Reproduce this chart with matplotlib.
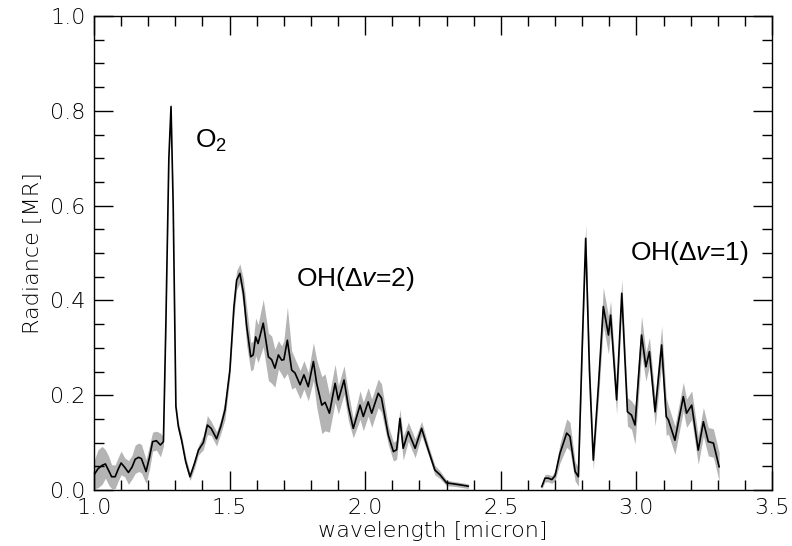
import numpy as np
import matplotlib
matplotlib.use("Agg")
import matplotlib.pyplot as plt

plt.rcParams['mathtext.fontset'] = 'custom'
plt.rcParams['mathtext.rm'] = 'Liberation Sans'
plt.rcParams['mathtext.it'] = 'Liberation Sans:italic'

# O2 + OH(dv=2) part of the spectrum
wl_a = [1.000, 1.015, 1.030, 1.042, 1.055, 1.065, 1.078, 1.090, 1.100, 1.113,
        1.127, 1.140, 1.152, 1.165, 1.175, 1.192, 1.205, 1.216, 1.230, 1.245,
        1.256, 1.265, 1.276, 1.284, 1.292, 1.302, 1.311, 1.323, 1.338, 1.354,
        1.370, 1.385, 1.403, 1.418, 1.432, 1.452, 1.468, 1.483, 1.501, 1.516,
        1.526, 1.538, 1.551, 1.563, 1.578, 1.587, 1.596, 1.605, 1.624, 1.643,
        1.655, 1.667, 1.680, 1.692, 1.700, 1.713, 1.729, 1.741, 1.760, 1.774,
        1.790, 1.809, 1.821, 1.840, 1.852, 1.868, 1.889, 1.901, 1.922, 1.938,
        1.956, 1.981, 1.993, 2.011, 2.024, 2.048, 2.060, 2.085, 2.104, 2.116,
        2.128, 2.140, 2.159, 2.184, 2.208, 2.233, 2.257, 2.276, 2.300, 2.325,
        2.349, 2.380]
rad_a = [0.032, 0.045, 0.052, 0.055, 0.040, 0.028, 0.028, 0.045, 0.057, 0.048,
         0.037, 0.048, 0.065, 0.069, 0.066, 0.039, 0.070, 0.102, 0.104, 0.095,
         0.102, 0.350, 0.700, 0.809, 0.600, 0.176, 0.134, 0.105, 0.060, 0.028,
         0.055, 0.084, 0.100, 0.137, 0.130, 0.108, 0.135, 0.169, 0.253, 0.387,
         0.443, 0.457, 0.415, 0.345, 0.281, 0.285, 0.323, 0.309, 0.352, 0.281,
         0.275, 0.257, 0.285, 0.274, 0.275, 0.316, 0.253, 0.247, 0.222, 0.243,
         0.218, 0.271, 0.225, 0.179, 0.185, 0.162, 0.225, 0.190, 0.232, 0.176,
         0.130, 0.179, 0.155, 0.186, 0.162, 0.204, 0.194, 0.116, 0.081, 0.085,
         0.151, 0.088, 0.123, 0.088, 0.130, 0.084, 0.042, 0.032, 0.015, 0.013,
         0.011, 0.008]
err_a = [0.030, 0.040, 0.040, 0.030, 0.030, 0.025, 0.025, 0.025, 0.025, 0.020,
         0.025, 0.025, 0.030, 0.030, 0.030, 0.025, 0.025, 0.020, 0.020, 0.025,
         0.010, 0.010, 0.010, 0.010, 0.010, 0.010, 0.010, 0.010, 0.010, 0.008,
         0.010, 0.010, 0.015, 0.020, 0.015, 0.015, 0.015, 0.020, 0.015, 0.020,
         0.020, 0.020, 0.030, 0.040, 0.030, 0.030, 0.040, 0.040, 0.050, 0.050,
         0.050, 0.040, 0.030, 0.030, 0.040, 0.070, 0.040, 0.030, 0.030, 0.030,
         0.030, 0.040, 0.050, 0.060, 0.060, 0.040, 0.040, 0.030, 0.030, 0.030,
         0.020, 0.030, 0.030, 0.030, 0.030, 0.030, 0.030, 0.020, 0.020, 0.020,
         0.020, 0.025, 0.020, 0.020, 0.015, 0.010, 0.010, 0.008, 0.006, 0.005,
         0.005, 0.005]

# OH(dv=1) part
wl_b = [2.651, 2.663, 2.675, 2.688, 2.700, 2.718, 2.743, 2.755, 2.774, 2.786,
        2.800, 2.813, 2.827, 2.841, 2.860, 2.878, 2.897, 2.905, 2.927, 2.946,
        2.967, 2.982, 2.995, 3.019, 3.035, 3.048, 3.069, 3.093, 3.110, 3.118,
        3.142, 3.173, 3.185, 3.204, 3.228, 3.247, 3.265, 3.284, 3.305]
rad_b = [0.007, 0.025, 0.025, 0.022, 0.030, 0.077, 0.120, 0.113, 0.039, 0.028,
         0.300, 0.531, 0.250, 0.063, 0.220, 0.387, 0.327, 0.369, 0.190, 0.415,
         0.165, 0.158, 0.137, 0.327, 0.260, 0.292, 0.165, 0.306, 0.155, 0.148,
         0.105, 0.197, 0.162, 0.179, 0.084, 0.144, 0.102, 0.099, 0.049]
err_b = [0.005, 0.008, 0.008, 0.008, 0.010, 0.020, 0.030, 0.030, 0.020, 0.020,
         0.030, 0.030, 0.030, 0.020, 0.030, 0.040, 0.040, 0.030, 0.030, 0.030,
         0.030, 0.030, 0.040, 0.040, 0.030, 0.030, 0.030, 0.040, 0.040, 0.030,
         0.030, 0.030, 0.030, 0.030, 0.030, 0.030, 0.030, 0.030, 0.030]

fig = plt.figure(figsize=(7.92, 5.46), dpi=100)
ax = fig.add_axes([94 / 792, 1 - 490 / 546, 678 / 792, 474 / 546])

for wl, rad, err in [(wl_a, rad_a, err_a), (wl_b, rad_b, err_b)]:
    wl = np.array(wl)
    rad = np.array(rad)
    err = np.array(err)
    ax.fill_between(wl, np.clip(rad - err, 0, None), rad + err,
                    color='#b4b4b4', linewidth=0)
    ax.plot(wl, rad, color='black', linewidth=1.2)

ax.set_xlim(1.0, 3.5)
ax.set_ylim(0.0, 1.0)
ax.set_xticks(np.arange(1.0, 3.51, 0.5))
ax.set_xticks(np.arange(1.0, 3.51, 0.1), minor=True)
ax.set_yticks(np.arange(0.0, 1.01, 0.2))
ax.set_yticks(np.arange(0.0, 1.01, 0.05), minor=True)
ax.set_xticklabels([f"{v:.1f}" for v in np.arange(1.0, 3.51, 0.5)])
ax.set_yticklabels([f"{v:.1f}" for v in np.arange(0.0, 1.01, 0.2)])
ax.tick_params(which='both', direction='in', top=True, right=True,
               width=1.0, labelsize=16, pad=6)
ax.tick_params(which='major', length=14)
ax.tick_params(which='minor', length=7)
for lab in ax.get_xticklabels() + ax.get_yticklabels():
    lab.set_fontweight('light')
for sp in ax.spines.values():
    sp.set_linewidth(1.0)

ax.set_xlabel('wavelength [micron]', fontsize=16, fontweight='light', labelpad=2)
ax.set_ylabel('Radiance [MR]', fontsize=16, fontweight='light', labelpad=6)

ax.text(1.372, 0.721, 'O$_2$', fontsize=19, family='Liberation Sans')
ax.text(1.745, 0.430, r'OH($\Delta\mathit{v}$=2)', fontsize=19, family='Liberation Sans')
ax.text(2.976, 0.485, r'OH($\Delta\mathit{v}$=1)', fontsize=19, family='Liberation Sans')

fig.savefig('out.png', dpi=100)
